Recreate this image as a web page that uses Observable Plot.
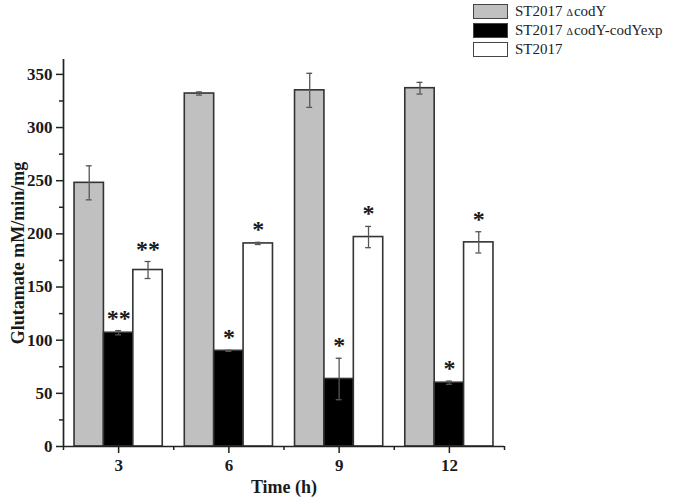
<!DOCTYPE html>
<html>
<head>
<meta charset="utf-8">
<script src="https://cdn.jsdelivr.net/npm/d3@7"></script>
<script src="https://cdn.jsdelivr.net/npm/@observablehq/plot@0.6"></script>
<style>
  body { margin: 0; background: #fff; }
  #wrap { position: relative; width: 680px; height: 497px; font-family: "Liberation Serif", "Times New Roman", serif; }
  #legend { position: absolute; left: 473px; top: 2px; }
  .item { display: flex; align-items: center; height: 19px; font-size: 15px; color: #222; }
  .sw { width: 35px; height: 15px; border: 1.5px solid #444; box-sizing: border-box; margin-right: 7px; }
  .d { font-size: 10px; margin: 0 1px 0 4px; }
</style>
</head>
<body>
<div id="wrap"><div id="legend"></div></div>
<script>
const times = [3, 6, 9, 12];
const seriesNames = ["ST2017 ΔcodY", "ST2017 ΔcodY-codYexp", "ST2017"];
const seriesColors = ["#c0c0c0", "#000000", "#ffffff"];
const codY = [248, 332, 335, 337];
const codYErr = [16, 1.5, 16, 5.5];
const comp = [107, 90, 63.5, 60];
const compErr = [2, 0.5, 19.5, 1.5];
const wt = [166, 191, 197, 192];
const wtErr = [8, 1, 10, 10];
const sigCodY = ["", "", "", ""];
const sigComp = ["**", "*", "*", "*"];
const sigWt = ["**", "*", "*", "*"];
const yTicks = [0, 50, 100, 150, 200, 250, 300, 350];
const yMinor = [25, 75, 125, 175, 225, 275, 325];
const xMinor = [1.5, 4.5, 7.5, 10.5, 13.5];

const values = [codY, comp, wt];
const errs = [codYErr, compErr, wtErr];
const sigs = [sigCodY, sigComp, sigWt];
const offset = [-0.8, 0, 0.8];
const halfW = 0.4;
const rows = [];
times.forEach((t, i) => {
  seriesNames.forEach((s, k) => {
    rows.push({t, series: s, k, value: values[k][i], err: errs[k][i], sig: sigs[k][i], c: t + offset[k]});
  });
});

const font = "Liberation Serif";
const ink = "#222";
const chart = Plot.plot({
  width: 680,
  height: 497,
  marginLeft: 63,
  marginRight: 176,
  marginTop: 59,
  marginBottom: 51,
  style: {fontFamily: font, background: "#fff", color: "#1a1a1a"},
  x: {domain: [1.5, 13.5]},
  y: {domain: [0, 364]},
  marks: [
    Plot.rectY(rows, {x1: d => d.c - halfW, x2: d => d.c + halfW, y: "value", fill: d => seriesColors[d.k], stroke: "#333", strokeWidth: 1.6}),
    Plot.ruleX(rows, {x: "c", y1: d => d.value - d.err, y2: d => d.value + d.err, stroke: "#555", strokeWidth: 1.3}),
    Plot.ruleY(rows, {x1: d => d.c - 0.08, x2: d => d.c + 0.08, y: d => d.value + d.err, stroke: "#555", strokeWidth: 1.3}),
    Plot.ruleY(rows, {x1: d => d.c - 0.08, x2: d => d.c + 0.08, y: d => d.value - d.err, stroke: "#555", strokeWidth: 1.3}),
    Plot.text(rows.filter(d => d.sig), {x: "c", y: d => d.value + d.err, text: "sig", dy: -5, lineAnchor: "bottom", fontSize: 24, fontWeight: "bold", fill: "#1a1a1a"}),
    Plot.ruleX([1.5], {y1: 0, y2: 364, stroke: ink, strokeWidth: 1.7}),
    Plot.ruleY([0], {x1: 1.5, x2: 13.5, stroke: ink, strokeWidth: 1.7}),
    Plot.axisY({ticks: yTicks, tickSize: 7, tickPadding: 4, fontSize: 17, fontWeight: "bold", stroke: ink, strokeWidth: 1.5,
      label: "Glutamate mM/min/mg", labelAnchor: "center", labelArrow: "none", labelOffset: 52}),
    Plot.axisY({ticks: yMinor, tickSize: 4, text: null, label: null, stroke: ink, strokeWidth: 1.5}),
    Plot.axisX({ticks: times, tickSize: 7, tickPadding: 5, fontSize: 17, fontWeight: "bold", stroke: ink, strokeWidth: 1.5,
      label: "Time (h)", labelAnchor: "center", labelArrow: "none", labelOffset: 46}),
    Plot.axisX({ticks: xMinor, tickSize: 4, text: null, label: null, stroke: ink, strokeWidth: 1.5})
  ]
});
d3.select(chart).selectAll("g[aria-label='y-axis label'] text, g[aria-label='x-axis label'] text")
  .style("font-size", "18px").style("font-weight", "bold");
document.getElementById("wrap").prepend(chart);

const legend = document.getElementById("legend");
seriesNames.forEach((s, k) => {
  const item = document.createElement("div");
  item.className = "item";
  const sw = document.createElement("div");
  sw.className = "sw";
  sw.style.background = seriesColors[k];
  item.appendChild(sw);
  const label = document.createElement("span");
  const parts = s.split("Δ");
  label.appendChild(document.createTextNode(parts[0].trim()));
  if (parts.length > 1) {
    const d = document.createElement("span");
    d.className = "d";
    d.textContent = "Δ";
    label.appendChild(d);
    label.appendChild(document.createTextNode(parts[1]));
  }
  item.appendChild(label);
  legend.appendChild(item);
});
</script>
</body>
</html>
